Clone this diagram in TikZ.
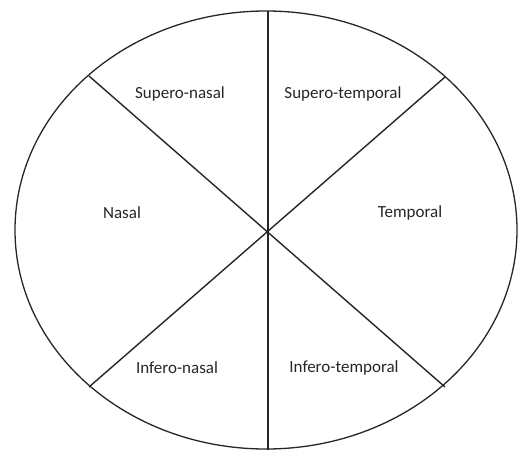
\documentclass[tikz,border=0pt]{standalone}
\usepackage{fontspec}
\setmainfont{Carlito}
\begin{document}
\begin{tikzpicture}[x=1pt, y=-1pt,
		sector/.style={font=\fontsize{17}{20}\selectfont, text=black!85},
		divider/.style={line width=1.4pt, black!85}]

		% --- Frame ---
		\useasboundingbox (0,0) rectangle (518,450);

		% --- Outline ---
		\coordinate (mid) at (266,230);
		\draw[line width=1.3pt, black!85] (mid) ellipse [x radius=251, y radius=219];

		% --- Dividers ---
		\coordinate (top) at (268,11);
		\coordinate (bottom) at (268,450);
		\coordinate (ul) at (89,76);
		\coordinate (lr) at (445,387);
		\coordinate (ur) at (445,77);
		\coordinate (ll) at (89,387);
		\draw[divider] (top) -- (bottom);
		\draw[divider] (ul) -- (lr);
		\draw[divider] (ur) -- (ll);

		% --- Labels ---
		\node[sector] (sn) at (180,94) {Supero-nasal};
		\node[sector] (st) at (343,94) {Supero-temporal};
		\node[sector] (n) at (122,213) {Nasal};
		\node[sector] (t) at (410,213) {Temporal};
		\node[sector] (in) at (177,368) {Infero-nasal};
		\node[sector] (it) at (344,368) {Infero-temporal};

	\end{tikzpicture}
\end{document}
